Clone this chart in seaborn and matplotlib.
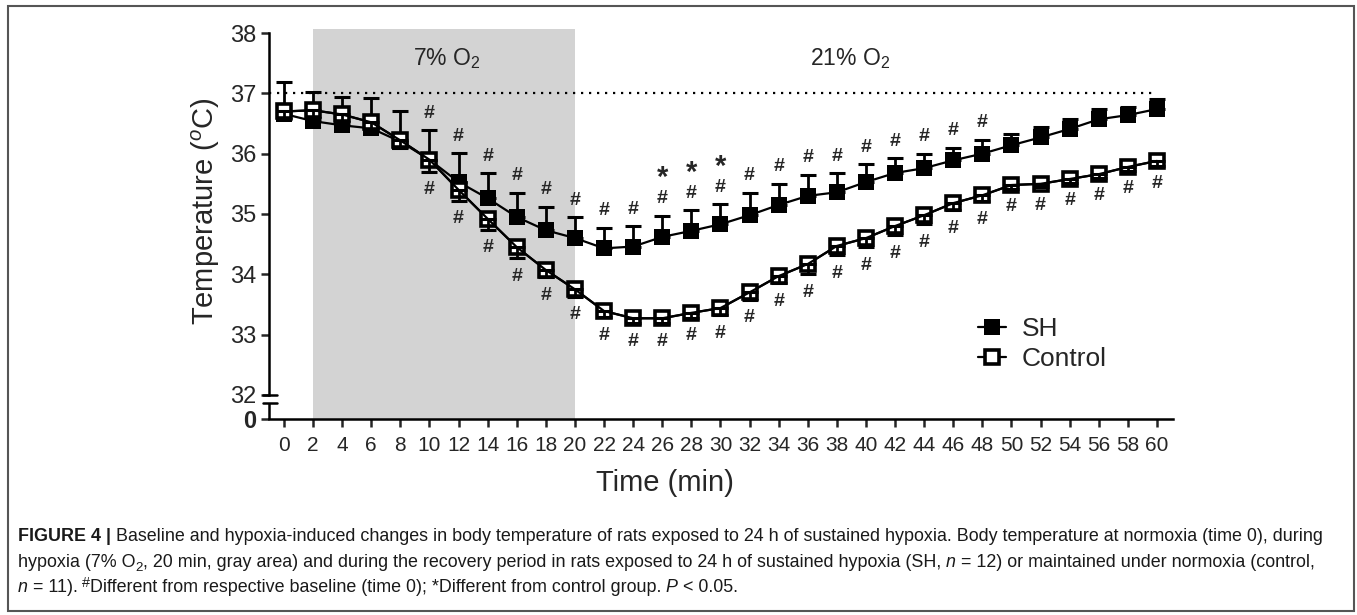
import matplotlib
matplotlib.use("Agg")
import matplotlib.pyplot as plt
import seaborn as sns
from matplotlib import font_manager
from matplotlib.patches import Rectangle

# Data
time = list(range(0, 61, 2))
sh_mean = [36.66, 36.54, 36.47, 36.42, 36.20, 35.90, 35.53, 35.26, 34.95, 34.73,
           34.60, 34.43, 34.46, 34.62, 34.72, 34.83, 34.98, 35.15, 35.30, 35.36,
           35.53, 35.68, 35.76, 35.89, 36.00, 36.14, 36.27, 36.41, 36.57, 36.64, 36.74]
sh_sem = [0.53, 0.48, 0.47, 0.50, 0.51, 0.49, 0.48, 0.42, 0.40, 0.39,
          0.35, 0.34, 0.34, 0.35, 0.34, 0.33, 0.37, 0.35, 0.35, 0.32,
          0.30, 0.25, 0.24, 0.21, 0.23, 0.19, 0.17, 0.16, 0.17, 0.13, 0.16]
ctrl_mean = [36.70, 36.72, 36.65, 36.52, 36.22, 35.90, 35.40, 34.92, 34.45, 34.07,
             33.75, 33.39, 33.27, 33.27, 33.36, 33.44, 33.70, 33.97, 34.17, 34.47,
             34.60, 34.80, 34.98, 35.18, 35.31, 35.48, 35.50, 35.58, 35.66, 35.78, 35.88]
ctrl_sem = [0.12, 0.12, 0.12, 0.12, 0.12, 0.20, 0.18, 0.18, 0.18, 0.12,
            0.12, 0.10, 0.08, 0.08, 0.08, 0.12, 0.12, 0.12, 0.17, 0.15,
            0.15, 0.15, 0.15, 0.12, 0.10, 0.06, 0.06, 0.06, 0.06, 0.06, 0.08]
sh_hash = list(range(10, 49, 2))       # different from baseline (SH)
sh_star = [26, 28, 30]                 # different from control
ctrl_hash = list(range(10, 61, 2))     # different from baseline (control)
ytick_vals = [32, 33, 34, 35, 36, 37, 38]

W, H = 1357, 615
sns.set_style("ticks")
plt.rcParams["font.family"] = ["Liberation Sans", "DejaVu Sans"]
plt.rcParams["mathtext.fontset"] = "custom"
plt.rcParams["mathtext.rm"] = "Liberation Sans"
plt.rcParams["mathtext.it"] = "Liberation Sans:italic"

names = {f.name for f in font_manager.fontManager.ttflist}
cap_family = "Liberation Sans Narrow" if "Liberation Sans Narrow" in names else "Liberation Sans"
cap_size = 15.1 if cap_family == "Liberation Sans Narrow" else 12.9

fig = plt.figure(figsize=(W / 100, H / 100), dpi=100)
ax = fig.add_axes([269 / W, 1 - 419 / H, 904 / W, 392 / H])

ybot, ytop = 31.6, 31.6 + 392 / 60.3
xl, xr = -1.03, -1.03 + 904 / 14.55
ax.set_xlim(xl, xr)
ax.set_ylim(ybot, ytop)

# hypoxia window
ax.axvspan(2, 20, ymin=0, ymax=(38.07 - ybot) / (ytop - ybot), color="#d3d3d3", lw=0, zorder=0)
ax.plot([xl, 60], [37, 37], color="black", lw=1.6, ls=(0, (1, 2.6)), zorder=1)

lw = 1.6
ax.errorbar(time, sh_mean, yerr=[[0] * len(time), sh_sem], fmt="none", ecolor="black",
            elinewidth=2.0, capsize=6, capthick=2.2, zorder=2)
sns.lineplot(x=time, y=sh_mean, color="black", lw=lw, marker="s", markersize=11,
             markeredgewidth=0, markerfacecolor="black", ax=ax, label="SH", zorder=3)
sns.lineplot(x=time, y=ctrl_mean, color="black", lw=lw, marker="s", markersize=10,
             markeredgewidth=2.6, markerfacecolor="white", markeredgecolor="black",
             ax=ax, label="Control", zorder=3.2)
ax.plot(time, ctrl_mean, color="black", lw=lw, zorder=3.4)
ax.errorbar(time, ctrl_mean, yerr=[ctrl_sem, [0] * len(time)], fmt="none", ecolor="black",
            elinewidth=2.0, capsize=6, capthick=2.2, zorder=3.5)

# significance marks
for t, m, s in zip(time, sh_mean, sh_sem):
    if t in sh_hash:
        ax.text(t, m + s + 0.28, "#", ha="center", va="center", fontsize=14, fontweight="bold")
    if t in sh_star:
        ax.text(t, m + s + 0.62, "*", ha="center", va="center", fontsize=21, fontweight="bold")
for t, m, s in zip(time, ctrl_mean, ctrl_sem):
    if t in ctrl_hash:
        ax.text(t, m - s - 0.3, "#", ha="center", va="center", fontsize=14, fontweight="bold")

ax.text(11.2, 37.47, "7% O$_2$", ha="center", va="baseline", fontsize=16.5)
ax.text(38.9, 37.47, "21% O$_2$", ha="center", va="baseline", fontsize=16.5)

# axes styling with broken y axis
for side in ["top", "right"]:
    ax.spines[side].set_visible(False)
for side in ["left", "bottom"]:
    ax.spines[side].set_linewidth(1.8)
    ax.spines[side].set_color("black")
ax.spines["left"].set_bounds(32, 38)
ytr = ax.get_yaxis_transform()
brk = 38 - (403 - 33) / 60.3
ax.plot([0, 0], [ybot, brk], transform=ytr, color="black", lw=1.8, clip_on=False,
        solid_capstyle="butt")
for yb in [32, brk]:
    ax.plot([-6 / 904, 8 / 904], [yb, yb], transform=ytr, color="black", lw=1.8, clip_on=False)

ax.set_yticks([ybot] + ytick_vals)
ax.set_yticklabels(["0"] + [str(v) for v in ytick_vals])
ax.get_yticklabels()[0].set_fontweight("bold")
ax.set_xticks(time)
ax.set_xticklabels([str(t) for t in time])
ax.tick_params(axis="y", direction="out", length=6, width=1.8, labelsize=17, pad=3)
ax.tick_params(axis="x", direction="out", length=6, width=1.8, labelsize=15, pad=6)

ax.set_ylabel("Temperature ($^{o}$C)", fontsize=21)
ax.yaxis.set_label_coords(-0.052, 0.53)
ax.set_xlabel("Time (min)", fontsize=21)
ax.xaxis.set_label_coords(0.438, -0.128)

ax.legend(loc="center left", bbox_to_anchor=(0.773, 0.191), frameon=False, fontsize=19,
          handlelength=1.05, handletextpad=0.6, labelspacing=0.25, borderaxespad=0)

# frame and caption
fig.add_artist(Rectangle((8 / W, 1 - 611 / H), 1346 / W, 605 / H, transform=fig.transFigure,
                         fill=False, ec="#555555", lw=1.5))

renderer = fig.canvas.get_renderer()


def caption_line(x_px, base_px, runs):
    x = x_px
    for s, kw in runs:
        kw = dict(kw)
        dy = kw.pop("dy", 0)
        size = kw.pop("size", cap_size)
        t = fig.text(x / W, 1 - (base_px - dy) / H, s, ha="left", va="baseline",
                     family=cap_family, fontsize=size, color="#1a1a1a", **kw)
        x += t.get_window_extent(renderer).width


caption_line(18, 541, [
    ("FIGURE 4 |", {"weight": "bold"}),
    (" Baseline and hypoxia-induced changes in body temperature of rats exposed to 24 h of "
     "sustained hypoxia. Body temperature at normoxia (time 0), during", {}),
])
caption_line(18, 567, [
    ("hypoxia (7% O", {}),
    ("2", {"size": cap_size * 0.75, "dy": -4}),
    (", 20 min, gray area) and during the recovery period in rats exposed to 24 h of "
     "sustained hypoxia (SH,", {}),
    (" n", {"style": "italic"}),
    (" = 12) or maintained under normoxia (control,", {}),
])
caption_line(18, 592, [
    ("n", {"style": "italic"}),
    (" = 11).", {}),
    (" #", {"size": cap_size * 0.8, "dy": 5}),
    ("Different from respective baseline (time 0); *Different from control group.", {}),
    (" P", {"style": "italic"}),
    (" < 0.05.", {}),
])

fig.savefig("out.png", dpi=100)
